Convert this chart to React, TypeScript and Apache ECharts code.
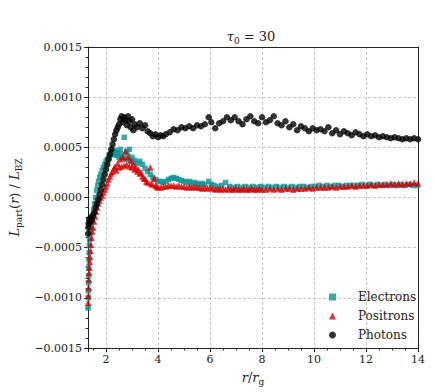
import React, { useEffect, useRef } from "react";
import * as echarts from "echarts";

const seriesNames = ["Electrons", "Positrons", "Photons"];
const xRange = [1.31, 14];
const yRange = [-0.0015, 0.0015];
const yStep = 0.0005;

const electrons: [number, number][] = [
  [1.31, -0.0011], [1.315, -0.001], [1.32, -0.00093], [1.325, -0.00085], [1.33, -0.00078], [1.335, -0.0007],
  [1.34, -0.00062], [1.35, -0.00055], [1.36, -0.00048], [1.37, -0.00042], [1.39, -0.00036], [1.42, -0.0003],
  [1.45, -0.00024], [1.48, -0.00018], [1.52, -0.00012], [1.56, -0.00006], [1.6, 0.0], [1.64, 0.00007],
  [1.68, 0.00012], [1.72, 0.00016], [1.76, 0.0002], [1.8, 0.00023], [1.85, 0.00027], [1.9, 0.0003],
  [1.95, 0.00033], [2.0, 0.00036], [2.05, 0.00038], [2.1, 0.0004], [2.15, 0.00042], [2.2, 0.00044],
  [2.25, 0.00046], [2.3, 0.00043], [2.35, 0.00047], [2.4, 0.00042], [2.45, 0.00045], [2.5, 0.0004],
  [2.55, 0.00048], [2.6, 0.00043], [2.65, 0.0004], [2.7, 0.0006], [2.75, 0.00038], [2.8, 0.00046],
  [2.85, 0.00041], [2.9, 0.00048], [2.95, 0.00037], [3.0, 0.0004], [3.05, 0.00035], [3.1, 0.00037],
  [3.2, 0.00034], [3.3, 0.00036], [3.4, 0.00033], [3.5, 0.00029], [3.6, 0.00026], [3.7, 0.00023],
  [3.8, 0.0002], [3.9, 0.00018], [4.0, 0.00016], [4.1, 0.00016], [4.2, 0.00015], [4.3, 0.00016],
  [4.4, 0.00018], [4.5, 0.00019], [4.6, 0.0002], [4.7, 0.00019], [4.8, 0.00018], [4.9, 0.00017],
  [5.0, 0.00016], [5.1, 0.00015], [5.2, 0.00016], [5.3, 0.00014], [5.4, 0.00015], [5.5, 0.00014],
  [5.6, 0.00013], [5.7, 0.00014], [5.8, 0.00013], [5.95, 0.00016], [6.05, 0.00013], [6.15, 0.00012],
  [6.3, 0.00011], [6.45, 0.00012], [6.6, 0.00015], [6.75, 0.00011], [6.9, 0.0001], [7.05, 0.00011],
  [7.2, 0.0001], [7.35, 0.00011], [7.5, 0.0001], [7.65, 0.00011], [7.8, 0.0001], [7.95, 0.00011],
  [8.1, 0.0001], [8.25, 0.00011], [8.4, 0.0001], [8.55, 0.00011], [8.7, 0.0001], [8.85, 0.00011],
  [9.0, 0.0001], [9.15, 0.00011], [9.3, 0.0001], [9.45, 0.00011], [9.6, 0.00011], [9.75, 0.0001],
  [9.9, 0.00011], [10.05, 0.00011], [10.2, 0.00012], [10.35, 0.00011], [10.5, 0.00012], [10.65, 0.00011],
  [10.8, 0.00012], [10.95, 0.00012], [11.1, 0.00011], [11.25, 0.00012], [11.4, 0.00012], [11.55, 0.00012],
  [11.7, 0.00012], [11.85, 0.00013], [12.0, 0.00012], [12.15, 0.00013], [12.3, 0.00012], [12.45, 0.00013],
  [12.6, 0.00012], [12.75, 0.00013], [12.9, 0.00012], [13.05, 0.00013], [13.2, 0.00012], [13.35, 0.00013],
  [13.5, 0.00012], [13.65, 0.00013], [13.8, 0.00012], [13.95, 0.00012],
];

const positrons: [number, number][] = [
  [1.31, -0.00105], [1.32, -0.00098], [1.33, -0.0009], [1.34, -0.00082], [1.35, -0.00075], [1.36, -0.0007],
  [1.37, -0.00064], [1.38, -0.00059], [1.4, -0.00053], [1.42, -0.00047], [1.44, -0.0004], [1.47, -0.00034],
  [1.5, -0.0003], [1.54, -0.00024], [1.58, -0.00019], [1.62, -0.00014], [1.66, -0.0001], [1.7, -0.00006],
  [1.75, -0.00003], [1.8, 0.0], [1.85, 0.00002], [1.9, 0.00005], [1.95, 0.00008], [2.0, 0.00011],
  [2.05, 0.00014], [2.1, 0.00018], [2.15, 0.00021], [2.2, 0.00024], [2.25, 0.00026], [2.3, 0.00029],
  [2.35, 0.00031], [2.4, 0.00027], [2.45, 0.00034], [2.5, 0.0003], [2.55, 0.00038], [2.6, 0.00031],
  [2.65, 0.0004], [2.7, 0.00032], [2.75, 0.00046], [2.8, 0.00033], [2.85, 0.0004], [2.9, 0.00031],
  [2.95, 0.00037], [3.0, 0.0003], [3.05, 0.00033], [3.1, 0.00028], [3.15, 0.0003], [3.2, 0.00026],
  [3.25, 0.00028], [3.3, 0.00024], [3.35, 0.00025], [3.4, 0.00021], [3.45, 0.00019], [3.5, 0.00019],
  [3.55, 0.00016], [3.6, 0.00015], [3.7, 0.0003], [3.72, 0.00014], [3.78, 0.00013], [3.85, 0.00019],
  [3.9, 0.00012], [3.95, 0.00011], [4.0, 0.0001], [4.1, 0.0001], [4.2, 0.00011], [4.3, 0.00011],
  [4.4, 0.00012], [4.5, 0.00012], [4.6, 0.00012], [4.7, 0.00011], [4.8, 0.00012], [4.9, 0.00011],
  [5.0, 0.00011], [5.1, 0.0001], [5.2, 0.00011], [5.3, 0.0001], [5.4, 0.00011], [5.5, 0.0001],
  [5.6, 0.0001], [5.7, 0.00009], [5.8, 0.0001], [5.9, 0.00009], [6.0, 0.0001], [6.1, 0.00009],
  [6.2, 0.00008], [6.3, 0.00009], [6.4, 0.00008], [6.5, 0.00009], [6.6, 0.00008], [6.7, 0.00009],
  [6.8, 0.00008], [6.9, 0.00008], [7.0, 0.00009], [7.1, 0.00008], [7.2, 0.00008], [7.3, 0.00009],
  [7.4, 0.00008], [7.5, 0.00008], [7.6, 0.00009], [7.7, 0.00008], [7.8, 0.00008], [7.9, 0.00009],
  [8.0, 0.00008], [8.15, 0.00008], [8.3, 0.00009], [8.45, 0.00008], [8.6, 0.00009], [8.75, 0.00008],
  [8.9, 0.00009], [9.05, 0.00009], [9.2, 0.00008], [9.35, 0.00009], [9.5, 0.00009], [9.65, 0.00009],
  [9.8, 0.0001], [9.95, 0.00009], [10.1, 0.0001], [10.25, 0.0001], [10.4, 0.0001], [10.55, 0.0001],
  [10.7, 0.00011], [10.85, 0.0001], [11.0, 0.00011], [11.15, 0.00011], [11.3, 0.00011], [11.45, 0.00012],
  [11.6, 0.00011], [11.75, 0.00012], [11.9, 0.00012], [12.05, 0.00012], [12.2, 0.00013], [12.35, 0.00012],
  [12.5, 0.00013], [12.65, 0.00013], [12.8, 0.00013], [12.95, 0.00014], [13.1, 0.00013], [13.25, 0.00014],
  [13.4, 0.00013], [13.55, 0.00014], [13.7, 0.00014], [13.85, 0.00015], [14.0, 0.00014],
];

const photons: [number, number][] = [
  [1.31, -0.00036], [1.32, -0.0003], [1.33, -0.00026], [1.35, -0.00022], [1.38, -0.00025], [1.41, -0.0002],
  [1.45, -0.00022], [1.5, -0.00018], [1.55, -0.00015], [1.6, -0.0001], [1.65, -0.00006], [1.7, -0.00002],
  [1.75, 0.00003], [1.8, 0.00008], [1.85, 0.00013], [1.9, 0.00018], [1.95, 0.00023], [2.0, 0.00028],
  [2.05, 0.00033], [2.1, 0.00038], [2.15, 0.00043], [2.2, 0.00048], [2.25, 0.00053], [2.3, 0.00058],
  [2.35, 0.00063], [2.4, 0.00067], [2.45, 0.0007], [2.5, 0.00073], [2.55, 0.00078], [2.6, 0.00081],
  [2.65, 0.00075], [2.7, 0.0008], [2.75, 0.00077], [2.8, 0.00072], [2.85, 0.00081], [2.9, 0.00076],
  [2.95, 0.0007], [3.0, 0.00078], [3.05, 0.00067], [3.1, 0.00073], [3.2, 0.0007], [3.3, 0.00074],
  [3.4, 0.00069], [3.5, 0.00072], [3.6, 0.00066], [3.7, 0.00064], [3.8, 0.00061], [3.9, 0.00063],
  [4.0, 0.0006], [4.1, 0.00062], [4.2, 0.00061], [4.3, 0.00063], [4.45, 0.00065], [4.6, 0.00068],
  [4.75, 0.00067], [4.9, 0.0007], [5.05, 0.00069], [5.2, 0.00071], [5.35, 0.00069], [5.5, 0.00072],
  [5.65, 0.00071], [5.8, 0.00073], [5.95, 0.0008], [6.05, 0.00075], [6.2, 0.00069], [6.35, 0.00074],
  [6.5, 0.00076], [6.65, 0.0008], [6.8, 0.00077], [6.95, 0.0008], [7.1, 0.00076], [7.25, 0.00073],
  [7.4, 0.00078], [7.55, 0.00081], [7.7, 0.00076], [7.85, 0.00074], [8.0, 0.0008], [8.15, 0.00075],
  [8.3, 0.00077], [8.45, 0.00081], [8.6, 0.00074], [8.75, 0.00072], [8.9, 0.00076], [9.05, 0.0007],
  [9.2, 0.00073], [9.35, 0.00067], [9.5, 0.00071], [9.65, 0.00069], [9.8, 0.00066], [9.95, 0.00069],
  [10.1, 0.00067], [10.25, 0.00068], [10.4, 0.00066], [10.55, 0.0007], [10.7, 0.00064], [10.85, 0.00067],
  [11.0, 0.00063], [11.15, 0.00066], [11.3, 0.00064], [11.45, 0.00062], [11.6, 0.00065], [11.75, 0.00063],
  [11.9, 0.00061], [12.05, 0.00063], [12.2, 0.00061], [12.35, 0.00062], [12.5, 0.0006], [12.65, 0.00061],
  [12.8, 0.0006], [12.95, 0.00059], [13.1, 0.0006], [13.25, 0.00059], [13.4, 0.00058], [13.55, 0.00059],
  [13.7, 0.00058], [13.85, 0.00059], [14.0, 0.00058],
];

const FONT = "DejaVu Serif";
const TXT = "#222";
const AXIS_COLOR = "#222";
const colors = { e: "#0e9494", p: "#d30000", g: "#000000" };

const fmtY = (v: number) => {
  const a = Math.abs(v).toFixed(4);
  return v < -1e-12 ? "\u2212" + a : a;
};

const richBase = {
  it: { fontFamily: FONT, fontStyle: "italic", fontWeight: "normal", fontSize: 13, lineHeight: 18, color: TXT },
  n: { fontFamily: FONT, fontWeight: "normal", fontSize: 13, lineHeight: 18, color: TXT },
  sub: { fontFamily: FONT, fontWeight: "normal", fontSize: 9, lineHeight: 10, verticalAlign: "bottom", color: TXT },
};

export default function App() {
  const ref = useRef<HTMLDivElement>(null);
  useEffect(() => {
    const chart = echarts.init(ref.current!, null, { renderer: "svg" });
    const option: any = {
      animation: false,
      backgroundColor: "#ffffff",
      textStyle: { fontFamily: FONT },
      title: {
        text: "{it|τ}{sub|0}{n| = 30}",
        left: 246,
        textAlign: "center",
        top: 22,
        textStyle: { fontFamily: FONT, fontWeight: "normal", rich: richBase },
      },
      grid: { left: 74, right: 18, top: 47, bottom: 44, containLabel: false },
      legend: {
        orient: "vertical",
        left: 324,
        top: 285,
        itemWidth: 7,
        itemHeight: 7,
        itemGap: 5,
        data: [
          { name: seriesNames[0], icon: "rect" },
          { name: seriesNames[1], icon: "triangle" },
          { name: seriesNames[2], icon: "circle" },
        ],
        textStyle: { fontFamily: FONT, fontSize: 12, color: TXT, lineHeight: 14, padding: [0, 0, 0, 17] },
      },
      xAxis: [
        {
          type: "value",
          min: xRange[0],
          max: xRange[1],
          splitNumber: 6,
          name: "{it|r}{n|/}{it|r}{sub|g}",
          nameLocation: "middle",
          nameGap: 20,
          nameTextStyle: { fontFamily: FONT, rich: richBase },
          axisLine: { show: true, onZero: false, lineStyle: { color: AXIS_COLOR, width: 1 } },
          axisTick: { show: true, inside: false, length: 4, lineStyle: { color: AXIS_COLOR } },
          minorTick: { show: true, splitNumber: 4, length: 2.5, lineStyle: { color: AXIS_COLOR } },
          axisLabel: { showMinLabel: false, fontFamily: FONT, fontSize: 11, color: TXT, margin: 6 },
          splitLine: { show: true, lineStyle: { color: "#b8b8b8", type: [3, 2], width: 0.8 } },
        },
        {
          type: "value",
          position: "top",
          min: xRange[0],
          max: xRange[1],
          axisLine: { show: true, onZero: false, lineStyle: { color: AXIS_COLOR, width: 1 } },
          axisTick: { show: false },
          axisLabel: { show: false },
          splitLine: { show: false },
        },
      ],
      yAxis: [
        {
          type: "value",
          min: yRange[0],
          max: yRange[1],
          interval: yStep,
          name: "{it|L}{sub|part}{n|(}{it|r}{n|) / }{it|L}{sub|BZ}",
          nameLocation: "middle",
          nameRotate: 90,
          nameGap: 54,
          nameTextStyle: { fontFamily: FONT, rich: richBase },
          axisLine: { show: true, onZero: false, lineStyle: { color: AXIS_COLOR, width: 1 } },
          axisTick: { show: true, inside: false, length: 4, lineStyle: { color: AXIS_COLOR } },
          minorTick: { show: true, splitNumber: 5, length: 2.5, lineStyle: { color: AXIS_COLOR } },
          axisLabel: { fontFamily: FONT, fontSize: 11, color: TXT, margin: 6, formatter: fmtY },
          splitLine: { show: true, lineStyle: { color: "#b8b8b8", type: [3, 2], width: 0.8 } },
        },
        {
          type: "value",
          position: "right",
          min: yRange[0],
          max: yRange[1],
          interval: yStep,
          axisLine: { show: true, onZero: false, lineStyle: { color: AXIS_COLOR, width: 1 } },
          axisTick: { show: false },
          axisLabel: { show: false },
          splitLine: { show: false },
        },
      ],
      series: [
        {
          name: seriesNames[0],
          type: "scatter",
          symbol: "rect",
          symbolSize: 5.5,
          itemStyle: { color: colors.e },
          data: electrons,
          clip: true,
        },
        {
          name: seriesNames[1],
          type: "scatter",
          symbol: "triangle",
          symbolSize: 6.5,
          itemStyle: { color: colors.p },
          data: positrons,
          clip: true,
        },
        {
          name: seriesNames[2],
          type: "scatter",
          symbol: "circle",
          symbolSize: 6.5,
          itemStyle: { color: colors.g },
          data: photons,
          clip: true,
        },
      ],
    };
    chart.setOption(option);
    return () => chart.dispose();
  }, []);
  return (
    <div
      ref={ref}
      style={{ position: "fixed", left: 0, top: 0, width: 436, height: 392, background: "#fff" }}
    />
  );
}
